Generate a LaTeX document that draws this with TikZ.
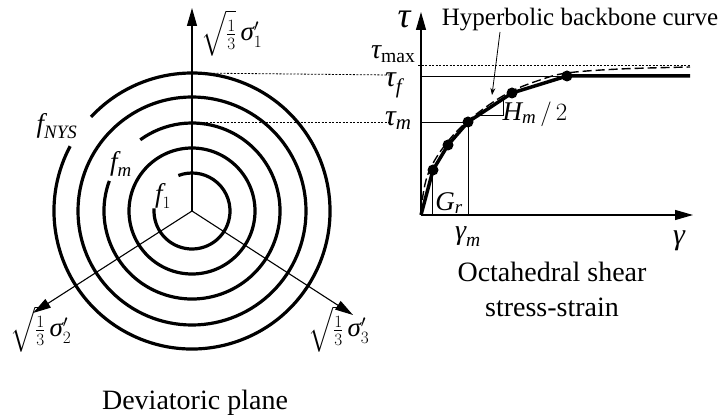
\documentclass[tikz,border=0pt]{standalone}
\usepackage{amsmath}
\usepackage{fontspec}
\setmainfont{Liberation Serif}
\usetikzlibrary{arrows.meta}
\newcommand{\gi}[1]{\text{\itshape #1}}
\begin{document}
\begin{tikzpicture}[x=1pt,y=-1pt,
  ring/.style={line width=3.2pt},
  axisarrow/.style={line width=1.1pt,-{Triangle[length=18pt,width=10pt]}},
  guide/.style={line width=0.8pt,dash pattern=on 2pt off 1.5pt},
  hairline/.style={line width=0.9pt},
  dotnode/.style={circle,fill=black,inner sep=0pt,minimum size=11pt},
  lbl/.style={inner sep=0pt,font=\fontsize{27}{30}\selectfont},
  captext/.style={inner sep=0pt,font=\fontsize{28}{34}\selectfont}]
\useasboundingbox (0,0) rectangle (718,419);
% ---------------- deviatoric plane ----------------
\coordinate (O) at (192,211);
\coordinate (s1) at (192,8);
\coordinate (s2) at (33,313);
\coordinate (s3) at (353,315);
\draw[axisarrow] (O) -- (s1);
\draw[axisarrow] (O) -- (s2);
\draw[axisarrow] (O) -- (s3);
\draw[ring] (O) ++(-152:138) arc[start angle=-152,end angle=-497,radius=138];
\draw[ring] (O) circle[radius=114];
\draw[ring] (O) ++(-160:88) arc[start angle=-160,end angle=-486,radius=88];
\draw[ring] (O) circle[radius=63];
\draw[ring] (O) ++(-176:38) arc[start angle=-176,end angle=-471,radius=38];
\node[lbl,anchor=north west] (l1) at (201,10) {$\sqrt{\tfrac{1}{3}}\,\gi{σ}'_{1}$};
\node[lbl,anchor=north west] (l2) at (10,306) {$\sqrt{\tfrac{1}{3}}\,\gi{σ}'_{2}$};
\node[lbl,anchor=north west] (l3) at (308,306) {$\sqrt{\tfrac{1}{3}}\,\gi{σ}'_{3}$};
\node[lbl] (fnys) at (57,126) {$\gi{f}_{\gi{NYS}}$};
\node[lbl] (fm) at (121,164) {$\gi{f}_{\gi{m}}$};
\node[lbl] (f1) at (163,196) {$\gi{f}_{1}$};
\node[captext] (dev) at (195,403) {Deviatoric plane};
% ---------------- stress-strain ----------------
\coordinate (G) at (421,215);
\coordinate (gx) at (693,215);
\coordinate (gy) at (421,12);
\coordinate (d1) at (433,170);
\coordinate (d2) at (448,145);
\coordinate (d3) at (468,122);
\coordinate (d4) at (512,93);
\coordinate (d5) at (567,76);
\coordinate (tend) at (690,76);
\coordinate (ctop) at (192,73);
\coordinate (cmid) at (192,122);
\coordinate (ftip) at (390,75);
\coordinate (mtip) at (390,122);
\draw[guide] (ctop) -- (ftip);
\draw[guide] (cmid) -- (mtip);
\draw[guide] (418,65) -- (690,65);
\draw[hairline] (421,76) -- (d5);
\draw[hairline] (421,122) -- (d3) -- (468,215);
\draw[hairline] (432,174) -- (432,215);
\draw[hairline] (480,115) -- (503,115) -- (503,99);
\draw[axisarrow] (G) -- (gx);
\draw[axisarrow] (G) -- (gy);
\draw[line width=1.4pt,dash pattern=on 9pt off 4pt] plot[smooth,tension=0.6] coordinates
  {(421,213) (423,195) (428,174) (440,152) (460,128) (486,107) (512,91) (540,80) (567,73) (620,69) (690,67)};
\draw[line width=3.5pt,line join=round] (G) -- (d1) -- (d2) -- (d3) -- (d4) -- (d5) -- (tend);
\foreach \p in {d1,d2,d3,d4,d5} \node[dotnode] at (\p) {};
\node[inner sep=0pt,font=\fontsize{36}{40}\selectfont] (tau) at (404,19) {$\gi{τ}$};
\node[inner sep=0pt,font=\fontsize{28}{32}\selectfont,anchor=base west] (tmax) at (371,59) {$\gi{τ}_{\mathrm{max}}$};
\node[inner sep=0pt,font=\fontsize{30}{34}\selectfont,anchor=base west] (tf) at (385,87) {$\gi{τ}_{\gi{f}}$};
\node[inner sep=0pt,font=\fontsize{30}{34}\selectfont,anchor=base west] (tm) at (385,126) {$\gi{τ}_{\gi{m}}$};
\node[inner sep=0pt,font=\fontsize{30}{34}\selectfont] (gam) at (679,241) {$\gi{γ}$};
\node[inner sep=0pt,font=\fontsize{28}{32}\selectfont] (gamm) at (468,237) {$\gi{γ}_{\gi{m}}$};
\node[lbl] (gr) at (449,203) {$\gi{G}_{\gi{r}}$};
\node[lbl] (hm) at (535,114) {$\gi{H}_{\gi{m}}\,/\,2$};
\node[inner sep=0pt,font=\fontsize{25}{30}\selectfont] (hyp) at (580,20) {Hyperbolic backbone curve};
\draw[line width=0.8pt,-{Stealth[length=7pt,width=5pt]}] (500,32) -- (492,95);
\node[captext] (oct1) at (552,272) {Octahedral shear};
\node[captext] (oct2) at (552,307) {stress-strain};
\end{tikzpicture}
\end{document}
